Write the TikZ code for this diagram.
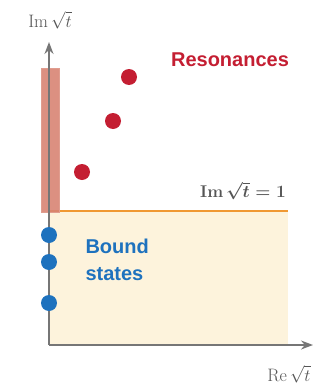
\documentclass[tikz,border=0pt]{standalone}
\usepackage{amsmath,amssymb}
\usepackage{fontspec}
\setsansfont{Liberation Sans}
\usetikzlibrary{arrows.meta,positioning}
\definecolor{res-red}{RGB}{196,30,50}
\definecolor{bnd-blue}{RGB}{30,114,190}
\definecolor{axis-gray}{RGB}{118,118,118}
\definecolor{text-gray}{RGB}{85,85,85}
\definecolor{cut-red}{RGB}{216,132,115}
\definecolor{box-yellow}{RGB}{253,243,220}
\definecolor{line-orange}{RGB}{240,152,50}

\begin{document}
\begin{tikzpicture}[x=1pt, y=-1pt,
    dot/.style={circle, inner sep=0pt, minimum size=16pt},
    resdot/.style={dot, fill=res-red},
    bnddot/.style={dot, fill=bnd-blue},
    axislbl/.style={text=text-gray, anchor=base, inner sep=0pt, font=\fontsize{18}{21}\selectfont},
    label/.style={font=\fontsize{20}{27}\selectfont\sffamily\bfseries},
    axis/.style={draw=axis-gray, line width=1.6pt, -{Stealth[length=12pt,width=9pt]}}]

    \useasboundingbox (0,0) rectangle (320,391);

    % Region below the line
    \fill[box-yellow] (49,212) rectangle (288,345);
    \coordinate (lineL) at (49,211);
    \coordinate (lineR) at (288,211);
    \draw[line-orange, line width=1.5pt] (lineL) -- (lineR);

    % Cut along the axis
    \draw[cut-red!80, fill=cut-red, fill opacity=0.9, line width=1pt] (41,68) rectangle (59,212);

    % Axes
    \coordinate (origin) at (49,345);
    \coordinate (xend) at (313,345);
    \coordinate (yend) at (49,42);
    \draw[axis] (origin) -- (xend);
    \draw[axis] (origin) -- (yend);

    % Axis labels
    \node[axislbl] (imlbl) at (50,27) {Im\,$\sqrt{t}$};
    \node[axislbl] (relbl) at (289,381) {Re\,$\sqrt{t}$};
    \node[text=text-gray, font=\fontsize{17}{20}\selectfont\bfseries\boldmath] (linelbl) at (243,191) {Im\,$\sqrt{t}=1$};

    % Resonances
    \node[resdot] (r1) at (82,172) {};
    \node[resdot] (r2) at (113,121) {};
    \node[resdot] (r3) at (129,77) {};
    \node[label, text=res-red] (reslbl) at (230,60) {Resonances};

    % Bound states
    \node[bnddot] (b1) at (49,235) {};
    \node[bnddot] (b2) at (49,262) {};
    \node[bnddot] (b3) at (49,303) {};
    \node[label, text=bnd-blue, align=left, anchor=west] (bndlbl) at (82,260) {Bound\\states};
\end{tikzpicture}
\end{document}
